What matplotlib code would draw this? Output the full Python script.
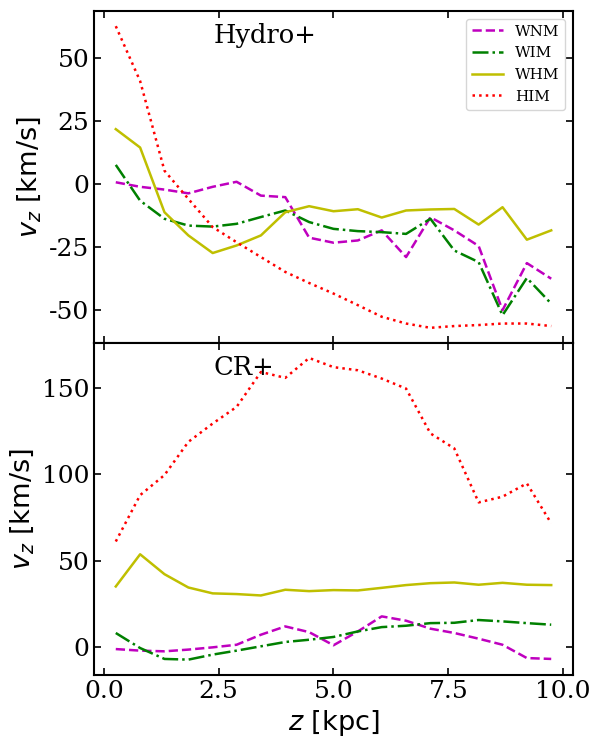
import matplotlib
matplotlib.use("Agg")
import matplotlib.pyplot as plt

z = [0.26, 0.79, 1.32, 1.84, 2.37, 2.89, 3.42, 3.95, 4.47, 5.00,
     5.53, 6.05, 6.58, 7.11, 7.63, 8.16, 8.68, 9.21, 9.74]

# Hydro+ panel
hydro_wnm = [0.8, -1.0, -2.1, -3.6, -1.0, 1.0, -4.5, -5.1, -21.2, -23.2,
             -22.3, -18.3, -28.9, -13.1, -18.3, -24.5, -50.0, -31.3, -37.5]
hydro_wim = [7.7, -6.5, -13.7, -16.4, -16.8, -15.7, -13.0, -10.4, -15.0, -17.7,
             -18.6, -19.0, -19.7, -13.7, -26.3, -30.9, -52.0, -37.2, -47.4]
hydro_whm = [21.9, 14.6, -11.1, -20.3, -27.3, -24.3, -20.3, -11.1, -8.7, -10.7,
             -9.9, -13.2, -10.4, -10.0, -9.8, -16.0, -9.1, -22.0, -18.3]
hydro_him = [62.8, 41.0, 5.4, -5.8, -17.0, -23.0, -28.9, -34.8, -39.2, -43.4,
             -48.0, -52.6, -55.3, -57.0, -56.3, -55.9, -55.3, -55.3, -56.3]

# CR+ panel
cr_wnm = [-1.0, -1.9, -2.3, -1.3, 0.0, 1.5, 7.3, 12.1, 8.8, 1.2,
          9.2, 17.9, 15.4, 10.8, 8.3, 5.0, 1.5, -6.2, -6.7]
cr_wim = [8.3, -0.4, -6.7, -7.1, -4.2, -1.9, 0.6, 3.1, 4.4, 6.0,
          9.2, 11.7, 12.5, 14.0, 14.2, 15.8, 15.0, 14.0, 13.1]
cr_whm = [35.2, 53.8, 42.3, 34.6, 31.2, 30.8, 30.0, 33.3, 32.5, 33.1,
          32.9, 34.4, 36.0, 37.1, 37.5, 36.2, 37.3, 36.2, 36.0]
cr_him = [61.2, 88.0, 99.6, 118.8, 129.4, 139.0, 159.2, 155.8, 167.3, 162.0,
          160.2, 155.4, 149.6, 123.7, 115.0, 83.8, 87.1, 94.8, 71.7]

labels = ["WNM", "WIM", "WHM", "HIM"]
styles = [("m", "--"), ("g", "-."), ("y", "-"), ("r", ":")]
panels = [("Hydro+", [hydro_wnm, hydro_wim, hydro_whm, hydro_him]),
          ("CR+", [cr_wnm, cr_wim, cr_whm, cr_him])]

plt.rcParams["axes.unicode_minus"] = False
fig = plt.figure(figsize=(5.95, 7.39), dpi=100)
gs = fig.add_gridspec(2, 1, left=0.158, right=0.963, top=0.985, bottom=0.087, hspace=0)
axes = [fig.add_subplot(gs[0])]
axes.append(fig.add_subplot(gs[1], sharex=axes[0]))

for ax, (title, series) in zip(axes, panels):
    for s, lab, (c, ls) in zip(series, labels, styles):
        ax.plot(z, s, color=c, linestyle=ls, linewidth=1.8, label=lab)
    ax.text(0.25, 0.925, title, transform=ax.transAxes, ha="left", va="center",
            fontsize=18.5, family="DejaVu Serif")
    ax.tick_params(direction="in", top=True, right=True, length=5, width=1.2,
                   labelsize=18)
    for sp in ax.spines.values():
        sp.set_linewidth(1.5)
    ax.set_ylabel(r"$v_z$ [km/s]", fontsize=19.5)

axes[0].set_yticks([-50, -25, 0, 25, 50])
axes[1].set_yticks([0, 50, 100, 150])
axes[1].set_xticks([0.0, 2.5, 5.0, 7.5, 10.0])
plt.setp(axes[0].get_xticklabels(), visible=False)
for ax in axes:
    for lbl in ax.get_yticklabels() + ax.get_xticklabels():
        lbl.set_family("DejaVu Serif")
axes[1].set_xlabel(r"$z$ [kpc]", fontsize=19.5)

leg = axes[0].legend(loc="upper right", prop={"family": "DejaVu Serif", "size": 11},
                     handlelength=2.0, frameon=True)

fig.savefig("out.png", dpi=100)
